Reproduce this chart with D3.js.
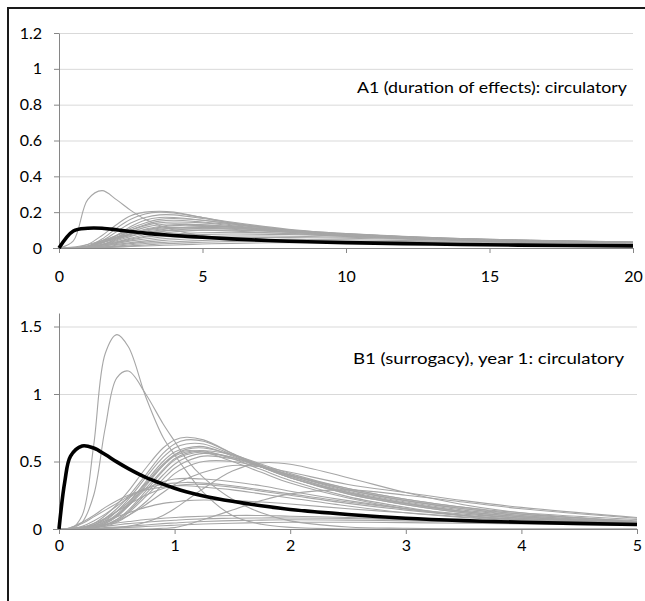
<!DOCTYPE html>
<html lang="en">
<head>
  <meta charset="utf-8">
  <title>Circulatory curves</title>
  <script src="https://cdnjs.cloudflare.com/ajax/libs/d3/7.8.5/d3.min.js"></script>
  <style>
    body {
      margin: 0;
      background: #ffffff;
    }

    svg {
      display: block;
      font-family: Lato, "Open Sans", sans-serif;
    }

    .title {
      font-size: 16px;
      fill: #000000;
    }
  </style>
</head>

<body>
  <svg id="chart" width="645" height="601"></svg>

  <script>
    //
    // Data
    //

    // panel A (duration of effects), x in years
    var xsA = [0, 0.5, 1, 1.5, 2, 2.5, 3, 3.5, 4, 5, 6, 8, 10, 13, 16, 20]
    var meanA = [0, 0.095, 0.11, 0.11, 0.102, 0.092, 0.083, 0.076, 0.07, 0.06, 0.051, 0.038, 0.03, 0.022, 0.016, 0.012]
    var greyA = [
      [0, 0.04, 0.27, 0.32, 0.27, 0.21, 0.16, 0.125, 0.1, 0.07, 0.055, 0.04, 0.032, 0.025, 0.02, 0.015],
      [0, 0, 0.02, 0.07, 0.13, 0.18, 0.2, 0.205, 0.2, 0.17, 0.14, 0.1, 0.075, 0.05, 0.04, 0.03],
      [0, 0, 0.01, 0.05, 0.11, 0.16, 0.19, 0.2, 0.195, 0.17, 0.145, 0.105, 0.08, 0.055, 0.042, 0.032],
      [0, 0, 0.01, 0.04, 0.09, 0.14, 0.17, 0.185, 0.185, 0.165, 0.14, 0.1, 0.075, 0.052, 0.04, 0.03],
      [0, 0, 0.005, 0.03, 0.07, 0.12, 0.155, 0.17, 0.17, 0.155, 0.135, 0.1, 0.075, 0.052, 0.04, 0.03],
      [0, 0, 0.005, 0.03, 0.06, 0.1, 0.13, 0.15, 0.155, 0.145, 0.13, 0.1, 0.075, 0.053, 0.04, 0.03],
      [0, 0, 0.01, 0.04, 0.07, 0.1, 0.125, 0.14, 0.145, 0.14, 0.125, 0.095, 0.072, 0.05, 0.038, 0.028],
      [0, 0, 0.01, 0.03, 0.06, 0.09, 0.115, 0.13, 0.135, 0.13, 0.12, 0.095, 0.072, 0.05, 0.038, 0.028],
      [0, 0, 0.005, 0.02, 0.05, 0.08, 0.105, 0.12, 0.13, 0.13, 0.12, 0.095, 0.073, 0.052, 0.04, 0.03],
      [0, 0, 0.01, 0.03, 0.055, 0.08, 0.1, 0.11, 0.115, 0.115, 0.11, 0.09, 0.07, 0.05, 0.038, 0.028],
      [0, 0.005, 0.02, 0.04, 0.06, 0.08, 0.095, 0.105, 0.11, 0.11, 0.105, 0.088, 0.07, 0.05, 0.038, 0.028],
      [0, 0, 0.005, 0.02, 0.04, 0.065, 0.085, 0.1, 0.11, 0.12, 0.118, 0.1, 0.08, 0.058, 0.044, 0.032],
      [0, 0, 0.005, 0.02, 0.035, 0.055, 0.075, 0.09, 0.1, 0.11, 0.11, 0.095, 0.078, 0.058, 0.045, 0.033],
      [0, 0, 0.005, 0.015, 0.03, 0.05, 0.065, 0.08, 0.09, 0.1, 0.1, 0.09, 0.075, 0.056, 0.044, 0.033],
      [0, 0, 0.005, 0.015, 0.03, 0.045, 0.06, 0.07, 0.078, 0.085, 0.088, 0.082, 0.07, 0.054, 0.043, 0.032],
      [0, 0, 0.005, 0.01, 0.025, 0.04, 0.05, 0.06, 0.067, 0.075, 0.078, 0.075, 0.066, 0.052, 0.042, 0.031],
      [0, 0, 0.005, 0.01, 0.02, 0.03, 0.04, 0.05, 0.056, 0.064, 0.067, 0.066, 0.06, 0.049, 0.04, 0.03],
      [0, 0, 0, 0.005, 0.015, 0.025, 0.033, 0.04, 0.046, 0.053, 0.057, 0.058, 0.054, 0.046, 0.038, 0.029],
      [0, 0, 0, 0.005, 0.01, 0.018, 0.025, 0.03, 0.035, 0.042, 0.046, 0.048, 0.046, 0.04, 0.034, 0.027],
      [0, 0, 0, 0.003, 0.007, 0.012, 0.017, 0.022, 0.026, 0.032, 0.036, 0.039, 0.038, 0.035, 0.03, 0.024],
      [0, 0, 0, 0.002, 0.005, 0.008, 0.011, 0.014, 0.017, 0.022, 0.026, 0.03, 0.031, 0.029, 0.026, 0.021],
      [0, 0, 0.01, 0.03, 0.05, 0.07, 0.085, 0.095, 0.1, 0.1, 0.095, 0.08, 0.065, 0.048, 0.037, 0.027],
      [0, 0, 0.005, 0.02, 0.045, 0.075, 0.1, 0.115, 0.125, 0.125, 0.115, 0.09, 0.068, 0.048, 0.036, 0.026],
      [0, 0, 0.01, 0.035, 0.07, 0.11, 0.14, 0.16, 0.165, 0.155, 0.135, 0.098, 0.072, 0.05, 0.038, 0.028]
    ]
    var ticksAx = [0, 5, 10, 15, 20]
    var ticksAy = [0, 0.2, 0.4, 0.6, 0.8, 1, 1.2]
    var titleA = 'A1 (duration of effects): circulatory'

    // panel B (surrogacy, year 1), x in years
    var xsB = [0, 0.05, 0.1, 0.2, 0.3, 0.4, 0.5, 0.6, 0.75, 0.9, 1, 1.1, 1.25, 1.5, 1.75, 2, 2.5, 3, 3.5, 4, 5]
    var meanB = [0, 0.35, 0.54, 0.615, 0.6, 0.552, 0.497, 0.447, 0.382, 0.332, 0.302, 0.276, 0.245, 0.205, 0.172, 0.145, 0.108, 0.08, 0.062, 0.05, 0.033]
    var greyB = [
      [0, 0, 0, 0.1, 0.62, 1.3, 1.44, 1.35, 0.98, 0.68, 0.55, 0.43, 0.27, 0.1, 0.035, 0.012, 0, 0, 0, 0, 0],
      [0, 0, 0, 0.05, 0.25, 0.75, 1.12, 1.17, 1.0, 0.78, 0.65, 0.52, 0.38, 0.22, 0.12, 0.06, 0.015, 0.005, 0, 0, 0],
      [0, 0, 0, 0.01, 0.04, 0.1, 0.18, 0.28, 0.45, 0.6, 0.66, 0.68, 0.66, 0.56, 0.46, 0.38, 0.26, 0.18, 0.12, 0.08, 0.04],
      [0, 0, 0, 0.01, 0.03, 0.08, 0.15, 0.24, 0.4, 0.56, 0.63, 0.66, 0.65, 0.56, 0.47, 0.39, 0.27, 0.19, 0.13, 0.09, 0.045],
      [0, 0, 0, 0, 0.02, 0.06, 0.13, 0.22, 0.38, 0.53, 0.6, 0.63, 0.63, 0.55, 0.46, 0.38, 0.26, 0.18, 0.12, 0.08, 0.04],
      [0, 0, 0, 0, 0.02, 0.05, 0.11, 0.19, 0.35, 0.5, 0.57, 0.6, 0.61, 0.54, 0.46, 0.38, 0.27, 0.19, 0.13, 0.09, 0.045],
      [0, 0, 0, 0, 0.01, 0.04, 0.09, 0.17, 0.32, 0.47, 0.55, 0.59, 0.6, 0.55, 0.47, 0.4, 0.28, 0.2, 0.14, 0.1, 0.05],
      [0, 0, 0, 0, 0.01, 0.04, 0.1, 0.18, 0.33, 0.47, 0.54, 0.57, 0.58, 0.52, 0.44, 0.36, 0.24, 0.16, 0.1, 0.07, 0.03],
      [0, 0, 0, 0, 0.01, 0.03, 0.07, 0.14, 0.28, 0.43, 0.51, 0.55, 0.57, 0.53, 0.46, 0.39, 0.27, 0.19, 0.13, 0.09, 0.045],
      [0, 0, 0, 0, 0.01, 0.03, 0.07, 0.13, 0.26, 0.4, 0.48, 0.53, 0.56, 0.53, 0.47, 0.4, 0.29, 0.21, 0.15, 0.1, 0.05],
      [0, 0, 0, 0, 0.01, 0.03, 0.06, 0.12, 0.24, 0.37, 0.45, 0.5, 0.54, 0.52, 0.46, 0.4, 0.29, 0.21, 0.15, 0.11, 0.055],
      [0, 0, 0, 0, 0.01, 0.02, 0.05, 0.1, 0.2, 0.33, 0.41, 0.46, 0.5, 0.5, 0.46, 0.4, 0.3, 0.22, 0.16, 0.11, 0.06],
      [0, 0, 0, 0.01, 0.03, 0.07, 0.13, 0.2, 0.34, 0.48, 0.55, 0.58, 0.57, 0.5, 0.42, 0.34, 0.23, 0.15, 0.1, 0.065, 0.03],
      [0, 0, 0, 0, 0.02, 0.05, 0.1, 0.17, 0.3, 0.44, 0.52, 0.56, 0.58, 0.55, 0.48, 0.41, 0.3, 0.22, 0.16, 0.12, 0.07],
      [0, 0, 0, 0, 0.01, 0.03, 0.06, 0.1, 0.18, 0.27, 0.33, 0.37, 0.42, 0.47, 0.46, 0.42, 0.33, 0.27, 0.21, 0.16, 0.085],
      [0, 0, 0.01, 0.04, 0.09, 0.14, 0.19, 0.24, 0.3, 0.33, 0.34, 0.345, 0.34, 0.32, 0.29, 0.26, 0.2, 0.15, 0.11, 0.08, 0.045],
      [0, 0, 0.01, 0.05, 0.1, 0.16, 0.21, 0.25, 0.29, 0.31, 0.32, 0.32, 0.31, 0.29, 0.26, 0.23, 0.17, 0.12, 0.085, 0.06, 0.03],
      [0, 0, 0, 0.02, 0.06, 0.11, 0.17, 0.23, 0.3, 0.35, 0.37, 0.375, 0.37, 0.35, 0.32, 0.28, 0.21, 0.15, 0.1, 0.07, 0.035],
      [0, 0, 0, 0.01, 0.04, 0.08, 0.13, 0.18, 0.25, 0.3, 0.32, 0.33, 0.33, 0.31, 0.28, 0.25, 0.19, 0.14, 0.1, 0.07, 0.035],
      [0, 0, 0, 0, 0, 0.005, 0.01, 0.02, 0.05, 0.1, 0.15, 0.21, 0.3, 0.43, 0.49, 0.48, 0.38, 0.27, 0.18, 0.12, 0.05],
      [0, 0, 0, 0, 0, 0, 0, 0, 0, 0.005, 0.01, 0.03, 0.07, 0.14, 0.21, 0.26, 0.29, 0.25, 0.2, 0.15, 0.08],
      [0, 0, 0, 0.01, 0.03, 0.06, 0.09, 0.12, 0.16, 0.19, 0.2, 0.21, 0.215, 0.21, 0.2, 0.185, 0.15, 0.12, 0.09, 0.065, 0.035],
      [0, 0, 0, 0.005, 0.01, 0.02, 0.03, 0.04, 0.05, 0.06, 0.065, 0.07, 0.075, 0.08, 0.082, 0.082, 0.078, 0.07, 0.06, 0.05, 0.035],
      [0, 0, 0, 0, 0.005, 0.01, 0.015, 0.02, 0.03, 0.04, 0.045, 0.05, 0.055, 0.062, 0.066, 0.068, 0.066, 0.06, 0.053, 0.045, 0.032],
      [0, 0, 0, 0, 0, 0.005, 0.008, 0.012, 0.018, 0.024, 0.028, 0.032, 0.037, 0.043, 0.047, 0.05, 0.05, 0.047, 0.043, 0.038, 0.028],
      [0, 0, 0.005, 0.015, 0.025, 0.035, 0.045, 0.055, 0.07, 0.08, 0.085, 0.09, 0.095, 0.1, 0.1, 0.095, 0.085, 0.07, 0.058, 0.047, 0.03]
    ]
    var ticksBx = [0, 1, 2, 3, 4, 5]
    var ticksBy = [0, 0.5, 1, 1.5]
    var titleB = 'B1 (surrogacy), year 1: circulatory'

    //
    // Configuration
    //

    var colorGrey = '#a6a6a6'
    var colorMean = '#000000'
    var colorAxis = '#868686'
    var colorGrid = '#d9d9d9'
    var tickFont = 16

    var svg = d3.select('#chart')

    // frame round the figure (only top and left edges are inside the picture)
    svg.append('path')
      .attr('d', 'M8,601 V8 H645')
      .attr('fill', 'none')
      .attr('stroke', '#1a1a1a')
      .attr('stroke-width', 2)

    //
    // Functions
    //

    function panel(opt) {
      var x = d3.scaleLinear().domain(opt.xDomain).range([59, opt.right])
      var y = d3.scaleLinear().domain(opt.yDomain).range([opt.bottom, opt.top])
      var fmt = d3.format('~g')
      var g = svg.append('g')

      // keep the smoothed curves above the x axis
      svg.append('clipPath')
        .attr('id', opt.id)
        .append('rect')
        .attr('x', 59)
        .attr('y', 0)
        .attr('width', opt.right - 59 + 4)
        .attr('height', opt.bottom)

      // gridlines
      g.append('g')
        .attr('transform', 'translate(59,0)')
        .call(d3.axisLeft(y).tickValues(opt.yTicks.slice(1)).tickSize(-(opt.right - 59)).tickFormat(''))
        .call(function(s) {
          s.select('.domain').remove()
          s.selectAll('line').attr('stroke', colorGrid)
        })

      var line = d3.line()
        .x(function(d) { return x(d[0]) })
        .y(function(d) { return y(d[1]) })
        .curve(d3.curveCatmullRom.alpha(0.5))

      function pairs(vals) {
        return vals.map(function(v, i) { return [opt.xs[i], v] })
      }

      g.append('g')
        .attr('clip-path', 'url(#' + opt.id + ')')
        .selectAll('path')
        .data(opt.grey)
        .join('path')
        .attr('d', function(d) { return line(pairs(d)) })
        .attr('fill', 'none')
        .attr('stroke', colorGrey)
        .attr('stroke-width', 1.1)

      // x axis
      g.append('g')
        .attr('transform', 'translate(0,' + opt.bottom + ')')
        .call(d3.axisBottom(x).tickValues(opt.xTicks).tickFormat(fmt).tickSize(5).tickPadding(opt.xPad).tickSizeOuter(0))
        .call(function(s) {
          s.selectAll('.domain, line').attr('stroke', colorAxis)
          s.select('.domain').attr('d', 'M53,0.5H' + opt.right)
        })

      // y axis
      g.append('g')
        .attr('transform', 'translate(59,0)')
        .call(d3.axisLeft(y).tickValues(opt.yTicks).tickFormat(fmt).tickSize(5).tickPadding(12).tickSizeOuter(0))
        .call(function(s) {
          s.selectAll('.domain, line').attr('stroke', colorAxis)
        })

      g.append('path')
        .attr('d', line(pairs(opt.mean)))
        .attr('fill', 'none')
        .attr('stroke', colorMean)
        .attr('stroke-width', 3.6)

      g.append('text')
        .attr('class', 'title')
        .attr('x', opt.titleX)
        .attr('y', opt.titleY)
        .attr('textLength', opt.titleW)
        .attr('lengthAdjust', 'spacingAndGlyphs')
        .text(opt.title)

      g.selectAll('.tick text')
        .attr('font-family', 'Lato, "Open Sans", sans-serif')
        .attr('font-size', tickFont)
        .attr('fill', '#000000')
    }

    //
    // Initialization
    //

    panel({
      id: 'clipA',
      xs: xsA, mean: meanA, grey: greyA,
      xDomain: [0, 20], yDomain: [0, 1.2],
      xTicks: ticksAx, yTicks: ticksAy,
      right: 633, top: 33, bottom: 248, xPad: 18,
      title: titleA, titleX: 357, titleY: 93, titleW: 270
    })

    panel({
      id: 'clipB',
      xs: xsB, mean: meanB, grey: greyB,
      xDomain: [0, 5], yDomain: [0, 1.6],
      xTicks: ticksBx, yTicks: ticksBy,
      right: 637, top: 313, bottom: 529, xPad: 6,
      title: titleB, titleX: 353, titleY: 364, titleW: 271
    })
  </script>
</body>
</html>
